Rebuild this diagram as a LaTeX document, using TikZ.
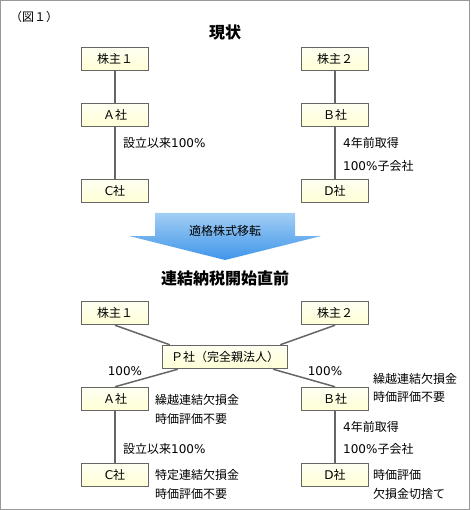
\documentclass[tikz,border=0pt]{standalone}
\usepackage{fontspec}
\setmainfont{Noto Sans CJK JP}
\newfontfamily\lat{DejaVu Sans}
\usetikzlibrary{positioning}
\definecolor{boxline}{HTML}{666666}
\definecolor{boxtop}{HTML}{FFFFF2}
\definecolor{boxbot}{HTML}{FFFFD6}
\definecolor{arrtop}{HTML}{A2CEF4}
\definecolor{arrbot}{HTML}{3F95EA}
\tikzset{co node/.style={draw=boxline,line width=1.5pt,top color=boxtop,bottom color=boxbot,minimum width=67pt,minimum height=23pt,inner sep=0pt,font=\fontsize{12}{14}\selectfont},
  note/.style={anchor=west,inner sep=0pt,font=\fontsize{12}{14}\selectfont},
  pct/.style={inner sep=0pt,font=\fontsize{12}{14}\selectfont\lat},
  head/.style={inner sep=0pt,font=\fontsize{16}{18}\selectfont\bfseries},
  link/.style={draw=boxline,line width=1.5pt},}

\begin{document}
\begin{tikzpicture}[x=1pt,y=-1pt]
  \useasboundingbox (0,0) rectangle (470,510);
  \draw[color=gray!80,line width=1pt] (0.5,0.5) rectangle (469.5,509.5);
  \node[note] (fig) at (10,17) {（図１）};

  % genjou
  \node[head] (t1) at (225,32) {現状};
  \node[co node] (k1) at (115,59) {株主１};
  \node[co node] (k2) at (335,59) {株主２};
  \node[co node] (a) at (115,115) {Ａ社};
  \node[co node] (b) at (335,115) {Ｂ社};
  \node[co node] (c) at (115,191) {{\lat C}社};
  \node[co node] (d) at (335,191) {{\lat D}社};
  \path[link]
  (k1) edge (a)
  (k2) edge (b)
  (a) edge (c)
  (b) edge (d);
  \node[note] (ac) at (123,143) {設立以来{\lat 100\%}};
  \node[note] (bd1) at (343,143) {{\lat 4}年前取得};
  \node[note] (bd2) at (343,166) {{\lat 100\%}子会社};

  % arrow
  \shade[top color=arrtop,bottom color=arrbot] (155,213) -- (295,213) -- (295,236) -- (321,236)
    -- (225,260) -- (129,236) -- (155,236) -- cycle;
  \node[inner sep=0pt,font=\fontsize{12}{14}\selectfont] (tr) at (225,231) {適格株式移転};

  % chokuzen
  \node[head] (t2) at (225,278) {連結納税開始直前};
  \node[co node] (K1) at (115,313) {株主１};
  \node[co node] (K2) at (335,313) {株主２};
  \node[co node,minimum width=125pt] (P) at (225,357) {Ｐ社（完全親法人）};
  \node[co node] (A) at (115,399) {Ａ社};
  \node[co node] (B) at (335,399) {Ｂ社};
  \node[co node] (C) at (115,475) {{\lat C}社};
  \node[co node] (D) at (335,475) {{\lat D}社};
  \draw[link] (K1.south) -- ([xshift=8pt]P.north west);
  \draw[link] (K2.south) -- ([xshift=-8pt]P.north east);
  \draw[link] ([xshift=16pt]P.south west) -- (A.north);
  \draw[link] ([xshift=-15pt]P.south east) -- (B.north);
  \draw[link] (A) -- (C);
  \draw[link] (B) -- (D);
  \node[pct] (pa) at (125,371) {100\%};
  \node[pct] (pb) at (325,371) {100\%};
  \node[note] (A1) at (155,400) {繰越連結欠損金};
  \node[note] (A2) at (155,419) {時価評価不要};
  \node[note] (B1) at (373,379) {繰越連結欠損金};
  \node[note] (B2) at (373,397) {時価評価不要};
  \node[note] (AC) at (123,449) {設立以来{\lat 100\%}};
  \node[note] (BD1) at (343,427) {{\lat 4}年前取得};
  \node[note] (BD2) at (343,449) {{\lat 100\%}子会社};
  \node[note] (C1) at (155,475) {特定連結欠損金};
  \node[note] (C2) at (155,494) {時価評価不要};
  \node[note] (D1) at (373,475) {時価評価};
  \node[note] (D2) at (373,494) {欠損金切捨て};
\end{tikzpicture}
\end{document}
